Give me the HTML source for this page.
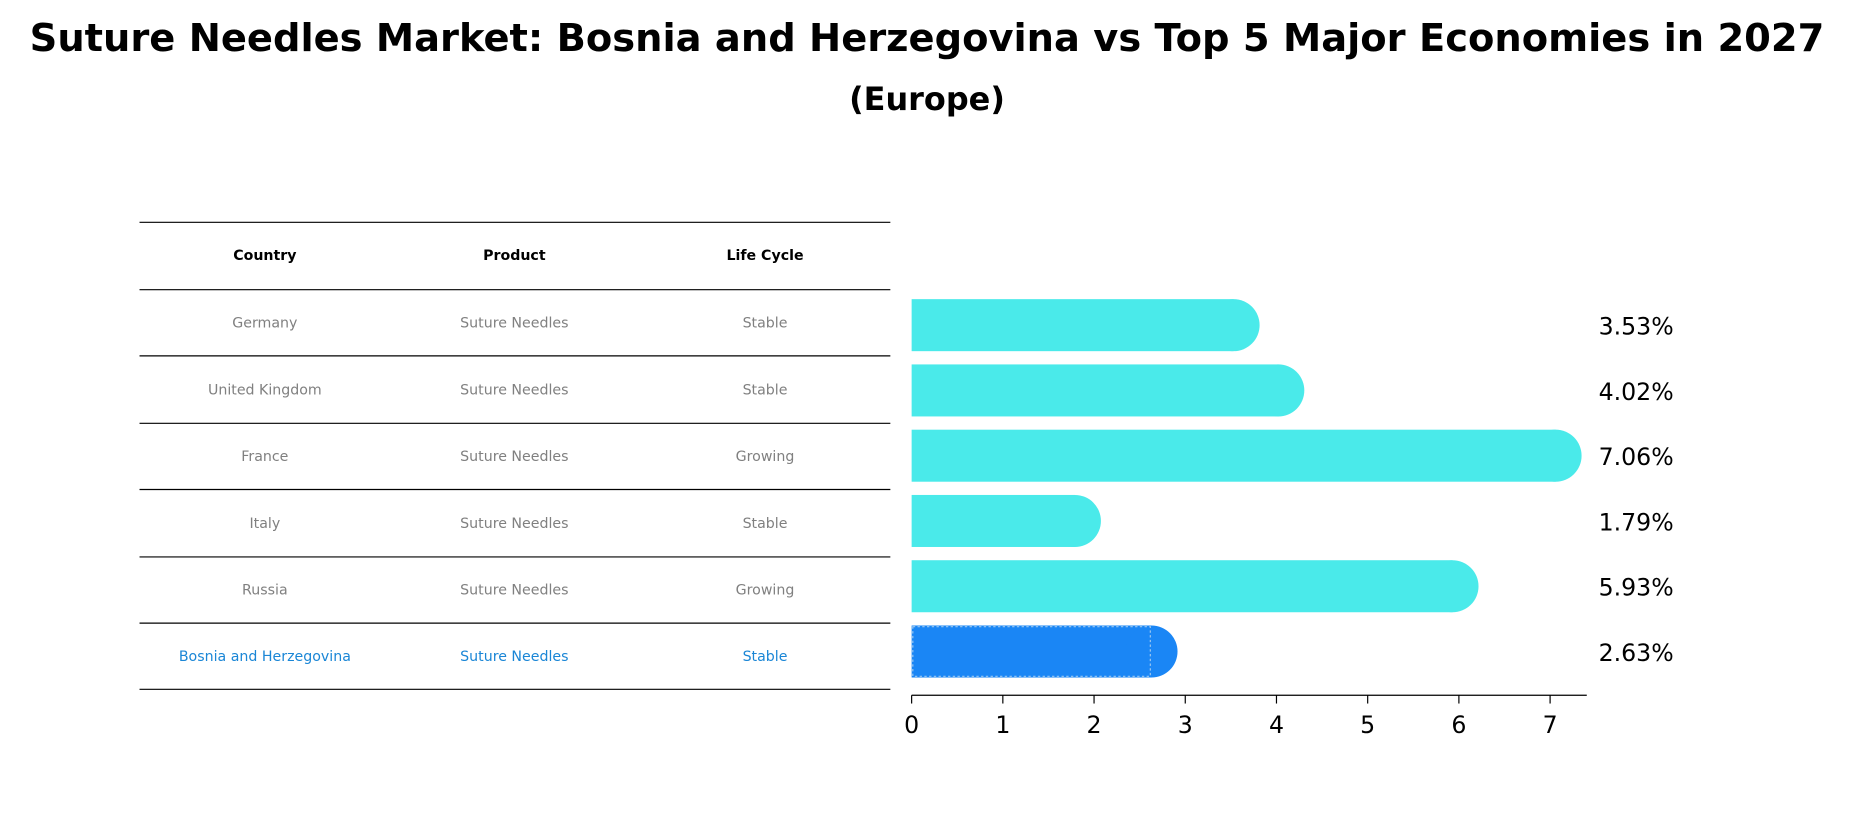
<!DOCTYPE html>
<html><head><meta charset="utf-8"><style>
body{margin:0;background:#fff;font-family:"Liberation Sans","DejaVu Sans",sans-serif}
</style></head><body>
<svg width="1854" height="823" xmlns="http://www.w3.org/2000/svg" font-family="DejaVu Sans, Liberation Sans, sans-serif">
<g transform="scale(1.1824)">
<text x="784" y="43" text-anchor="middle" font-size="32.5" font-weight="bold">Suture Needles Market: Bosnia and Herzegovina vs Top 5 Major Economies in 2027</text>
<text x="784" y="93" text-anchor="middle" font-size="27" font-weight="bold">(Europe)</text>
<g id="table"></g>
<g id="bars"></g>
<g id="axis"></g>
</g>
</svg>
<script>
const countries=["Germany","United Kingdom","France","Italy","Russia","Bosnia and Herzegovina"];
const products=["Suture Needles","Suture Needles","Suture Needles","Suture Needles","Suture Needles","Suture Needles"];
const lifecycles=["Stable","Stable","Growing","Stable","Growing","Stable"];
const values=[3.53,4.02,7.06,1.79,5.93,2.63];
const ticks=[0,1,2,3,4,5,6,7];
const NS="http://www.w3.org/2000/svg";
const x0=771,ppu=77.14;
const xs=v=>x0+v*ppu;
const rowY=i=>275+i*55.2;
function mk(t,a,p){const e=document.createElementNS(NS,t);for(const k in a)e.setAttribute(k,a[k]);p.appendChild(e);return e;}
const tb=document.getElementById('table');
const lineYs=[188,245,301,358,414,471,527,583];
lineYs.forEach(y=>{const l=mk('line',{x1:118,x2:753,y1:y,y2:y,stroke:'#000','stroke-width':1},tb);

});
const cx=[224,435,647];
["Country","Product","Life Cycle"].forEach((h,j)=>{const t=mk('text',{x:cx[j],y:220,'text-anchor':'middle','font-size':12,'font-weight':'bold'},tb);t.textContent=h;

});
countries.forEach((c,i)=>{const y=(lineYs[i+1]+lineYs[i+2])/2+4;const col=i==5?'#1a86d6':'#808080';
[c,products[i],lifecycles[i]].forEach((s,j)=>{const t=mk('text',{x:cx[j],y:y,'text-anchor':'middle','font-size':12,fill:col},tb);t.textContent=s;

});});
const bg=document.getElementById('bars');
const h=44;
values.forEach((v,i)=>{const y=rowY(i);const col=i==5?'#1a86f5':'#4aeaea';
const g=mk('g',{},bg);


mk('rect',{x:x0,y:y-h/2,width:xs(v)-x0,height:h,fill:col},g);
mk('circle',{cx:xs(v),cy:y,r:h/2,fill:col},g);
if(i==5)mk('rect',{x:x0+1,y:y-h/2+1,width:xs(v)-x0-2,height:h-2,fill:'none',stroke:'#9cc8f0','stroke-dasharray':'2 2','stroke-width':1},g);
const t=mk('text',{x:1352,y:y+8,'font-size':20},bg);t.textContent=v.toFixed(2)+'%';

});
const ax=document.getElementById('axis');
mk('line',{x1:x0,x2:1342,y1:588,y2:588,stroke:'#000','stroke-width':1},ax);
ticks.forEach(tk=>{mk('line',{x1:xs(tk),x2:xs(tk),y1:588,y2:595,stroke:'#000','stroke-width':1},ax);
const t=mk('text',{x:xs(tk),y:620,'text-anchor':'middle','font-size':20},ax);t.textContent=tk;

});
</script>
</body></html>
